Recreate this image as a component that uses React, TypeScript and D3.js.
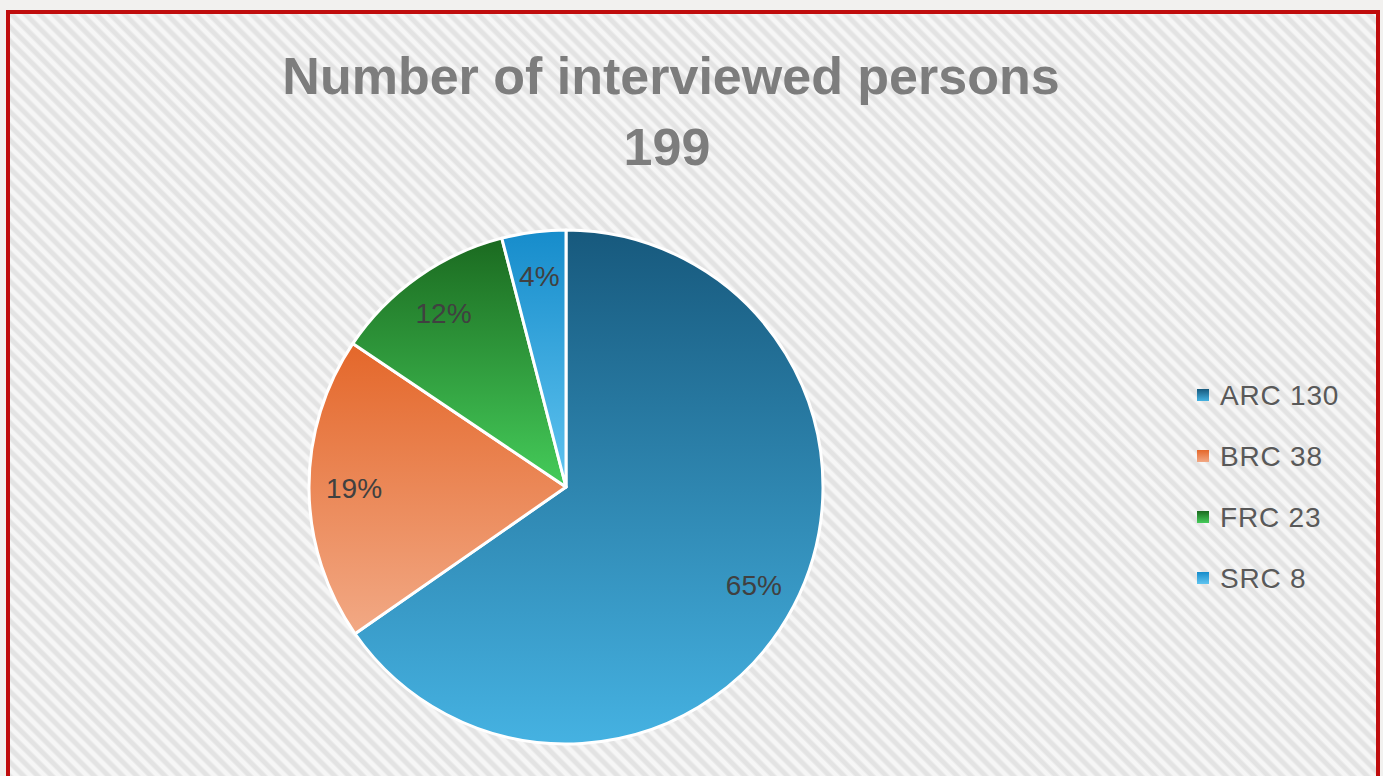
import React from "react";
import * as d3 from "d3";

const categories = ["ARC", "BRC", "FRC", "SRC"];
const values = [130, 38, 23, 8];
const percentLabels = ["65%", "19%", "12%", "4%"];
const titleLines = ["Number of interviewed persons", "199"];
const gradTop = ["#17597d", "#e4672a", "#1b6a20", "#168ccb"];
const gradBottom = ["#45b2e2", "#f2a985", "#45cc5a", "#60c4f0"];

const W = 1383;
const H = 776;
const cx = 566;
const cy = 487;
const R = 257;

export default function App() {
  const data = categories.map((c, i) => ({ name: c, value: values[i], i }));
  const pie = d3.pie<any>().sort(null).value((d) => d.value).startAngle(0).endAngle(2 * Math.PI);
  const arcs = pie(data);
  const arcGen = d3.arc<any>().innerRadius(0).outerRadius(R);
  const labelArc = d3.arc<any>().innerRadius(212).outerRadius(212);

  const legendY = d3.scalePoint<string>().domain(categories).range([395, 578]);

  return (
    <svg
      width={W}
      height={H}
      style={{ position: "absolute", left: 0, top: 0, display: "block" }}
      fontFamily="'Liberation Sans', Arial, sans-serif"
    >
      <defs>
        <pattern id="stripes" width={10} height={10} patternUnits="userSpaceOnUse" patternTransform="rotate(45)">
          <rect width={10} height={10} fill="#f6f6f6" />
          <rect y={0} width={10} height={4} fill="#e3e3e3" />
          <rect y={4} width={10} height={1} fill="#ececec" />
          <rect y={9} width={10} height={1} fill="#ececec" />
        </pattern>
        {categories.map((c, i) => (
          <linearGradient key={c} id={`g${i}`} x1="0" y1="0" x2="0" y2="1">
            <stop offset="0%" stopColor={gradTop[i]} />
            <stop offset="100%" stopColor={gradBottom[i]} />
          </linearGradient>
        ))}
      </defs>
      <rect x={0} y={0} width={W} height={H} fill="#f2f1ef" />
      <rect x={8} y={12} width={1370} height={H} fill="url(#stripes)" stroke="#c00d0d" strokeWidth={4} />

      <text x={671} y={94} textAnchor="middle" fontSize={52} fontWeight="bold" fill="#7d7d7d">
        {titleLines[0]}
      </text>
      <text x={667} y={165} textAnchor="middle" fontSize={52} fontWeight="bold" fill="#7d7d7d">
        {titleLines[1]}
      </text>

      <g transform={`translate(${cx},${cy})`}>
        {arcs.map((a, i) => (
          <path key={i} d={arcGen(a) || ""} fill={`url(#g${i})`} stroke="#ffffff" strokeWidth={3} strokeLinejoin="round" />
        ))}
        {arcs.map((a, i) => {
          const [x, y] = labelArc.centroid(a);
          return (
            <text key={i} x={x} y={y} textAnchor="middle" dominantBaseline="central" fontSize={28} fill="#404040">
              {percentLabels[i]}
            </text>
          );
        })}
      </g>

      <g>
        {categories.map((c, i) => (
          <g key={c} transform={`translate(0,${legendY(c)})`}>
            <rect x={1197} y={-6} width={12} height={12} fill={`url(#g${i})`} />
            <text x={1220} y={0} dominantBaseline="central" fontSize={28} letterSpacing={0.8} fill="#595959">
              {`${c} ${values[i]}`}
            </text>
          </g>
        ))}
      </g>
    </svg>
  );
}
